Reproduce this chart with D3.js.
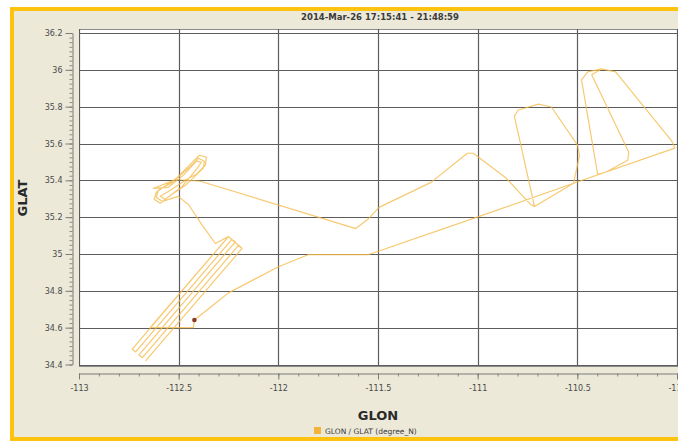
<!DOCTYPE html>
<html>
<head>
<meta charset="utf-8">
<script src="https://cdn.jsdelivr.net/npm/d3@7"></script>
<style>
  html, body { margin: 0; padding: 0; background: #ffffff; }
  svg { display: block; }
</style>
</head>
<body>
<svg id="chart" width="678" height="441"></svg>
<script>
// ---- chart text and axis values ----
const chartTitle = "2014-Mar-26 17:15:41 - 21:48:59";
const xTitle = "GLON";
const yTitle = "GLAT";
const legendLabel = "GLON / GLAT (degree_N)";

const xTickValues = [-113, -112.5, -112, -111.5, -111, -110.5, -110];
const xTickLabels = ["-113", "-112.5", "-112", "-111.5", "-111", "-110.5", "-110"];
const yTickValues = [34.4, 34.6, 34.8, 35, 35.2, 35.4, 35.6, 35.8, 36, 36.2];
const yTickLabels = ["34.4", "34.6", "34.8", "35", "35.2", "35.4", "35.6", "35.8", "36", "36.2"];

// ---- flight track (degrees) ----
const glon = [
  -112.421, -112.426, -112.643, -112.250, -112.733, -112.716, -112.233, -112.216,
  -112.699, -112.682, -112.199, -112.182, -112.665, -112.182, -112.250,
  -112.316, -112.381, -112.451,
  -112.502, -112.582, -112.612, -112.602, -112.532, -112.441, -112.401, -112.371,
  -112.376, -112.461, -112.562, -112.592, -112.623, -112.612, -112.512, -112.426,
  -112.396, -112.361, -112.366, -112.411,
  -112.451, -112.542, -112.592, -112.567, -112.482, -112.406, -112.386, -112.411,
  -112.477, -112.552, -112.628, -112.512, -112.391,
  -111.611, -111.546, -111.495, -111.234, -111.052, -111.022, -110.856,
  -110.735, -110.715, -110.519,
  -110.011, -110.026, -110.308, -110.378, -110.448, -110.479, -110.398, -110.358,
  -110.247, -110.242, -110.428, -110.378, -110.308, -110.026, -110.011,
  -110.519, -110.489, -110.499, -110.630, -110.695, -110.796, -110.816, -110.715,
  -110.519,
  -110.992, -111.546, -111.848, -111.999, -112.250, -112.331, -112.401, -112.421
];
const glat = [
  34.642, 34.600, 34.600, 35.095, 34.484, 34.468, 35.079, 35.066,
  34.452, 34.437, 35.048, 35.030, 34.421, 35.030, 35.095,
  35.057, 35.155, 35.269,
  35.313, 35.286, 35.307, 35.346, 35.389, 35.476, 35.520, 35.504,
  35.466, 35.378, 35.302, 35.275, 35.297, 35.335, 35.411, 35.504,
  35.536, 35.526, 35.482, 35.433,
  35.411, 35.346, 35.313, 35.297, 35.367, 35.466, 35.498, 35.504,
  35.427, 35.362, 35.356, 35.405, 35.395,
  35.138, 35.193, 35.253, 35.389, 35.547, 35.547, 35.411,
  35.269, 35.258, 35.384,
  35.575, 35.613, 35.989, 36.005, 35.989, 35.945, 35.433, 35.444,
  35.509, 35.553, 35.973, 36.005, 35.989, 35.613, 35.575,
  35.384, 35.536, 35.591, 35.798, 35.814, 35.782, 35.749, 35.258,
  35.384,
  35.204, 34.997, 34.997, 34.931, 34.789, 34.719, 34.659, 34.642
];
// departure point marker
const homeLon = [-112.421];
const homeLat = [34.642];

// ---- layout ----
const svg = d3.select("#chart");
const W = 678, H = 441;
const plot = { left: 79, right: 678, top: 29, bottom: 366 };

const x = d3.scaleLinear().domain([-113, -110]).range([79, 677]);
const y = d3.scaleLinear().domain([34.4, 36.2]).range([364.5, 33]);

const FONT = "'DejaVu Sans', Tahoma, sans-serif";

// outer chart background with gold frame
svg.append("rect").attr("x", 0).attr("y", 0).attr("width", W).attr("height", H).attr("fill", "#ffffff");
svg.append("rect")
  .attr("x", 12).attr("y", 9).attr("width", 720).attr("height", 430)
  .attr("fill", "#ECE9D8").attr("stroke", "#FFC20E").attr("stroke-width", 4);

// title
svg.append("text")
  .attr("x", 380).attr("y", 20)
  .attr("text-anchor", "middle")
  .attr("font-family", FONT).attr("font-size", 8.5).attr("font-weight", "bold")
  .attr("fill", "#3a3a3a")
  .text(chartTitle);

// plot background
svg.append("rect")
  .attr("x", plot.left + 0.5).attr("y", plot.top + 0.5)
  .attr("width", plot.right - plot.left + 5).attr("height", plot.bottom - plot.top)
  .attr("fill", "#ffffff").attr("stroke", "#8c8c8c").attr("stroke-width", 1);

svg.append("clipPath").attr("id", "plotClip")
  .append("rect").attr("x", plot.left).attr("y", plot.top)
  .attr("width", plot.right - plot.left).attr("height", plot.bottom - plot.top);

const gPlot = svg.append("g").attr("clip-path", "url(#plotClip)");

// grid
gPlot.selectAll("line.vgrid").data(xTickValues).enter().append("line")
  .attr("class", "vgrid")
  .attr("x1", d => Math.round(x(d)) + 0.5).attr("x2", d => Math.round(x(d)) + 0.5)
  .attr("y1", plot.top).attr("y2", plot.bottom)
  .attr("stroke", "#5c5c5c").attr("stroke-width", 1.2);
gPlot.selectAll("line.hgrid").data(yTickValues).enter().append("line")
  .attr("class", "hgrid")
  .attr("y1", d => Math.round(y(d)) + 0.5).attr("y2", d => Math.round(y(d)) + 0.5)
  .attr("x1", plot.left).attr("x2", plot.right)
  .attr("stroke", "#5c5c5c").attr("stroke-width", 1.2);

// track
const pts = glon.map((d, i) => [d, glat[i]]);
const line = d3.line().x(d => x(d[0])).y(d => y(d[1])).curve(d3.curveLinear);
gPlot.append("path")
  .attr("d", line(pts))
  .attr("fill", "none")
  .attr("stroke", "#F5BA48")
  .attr("stroke-opacity", 0.78)
  .attr("stroke-width", 1.2)
  .attr("stroke-linejoin", "round");

// departure marker
gPlot.selectAll("circle.home").data(homeLon).enter().append("circle")
  .attr("class", "home")
  .attr("cx", d => x(d)).attr("cy", (d, i) => y(homeLat[i]))
  .attr("r", 2.3).attr("fill", "#8a3b22");

// ---- axes ----
function styleAxis(g) {
  g.select(".domain").attr("stroke", "#7a7a7a");
  g.selectAll(".tick line").attr("stroke", "#7a7a7a");
  g.selectAll(".tick text").attr("fill", "#4a4a4a")
    .attr("font-family", FONT).attr("font-size", 8);
}

// y axis (offset a few pixels left of the plot)
const yAxisX = 72;
const yMinor = d3.range(34.4, 36.2001, 0.025).map(v => +v.toFixed(3));
svg.append("g").attr("transform", `translate(${yAxisX + 0.5},0)`)
  .call(d3.axisLeft(y).tickValues(yMinor).tickSize(3).tickFormat(""))
  .call(g => { g.select(".domain").remove(); g.selectAll(".tick line").attr("stroke", "#8a8a8a"); });
svg.append("g").attr("transform", `translate(${yAxisX + 0.5},0)`)
  .call(d3.axisLeft(y).tickValues(yTickValues)
    .tickFormat((d, i) => yTickLabels[i]).tickSizeInner(7).tickSizeOuter(0).tickPadding(3))
  .call(styleAxis);

// x axis (offset a few pixels below the plot)
const xAxisY = 373;
const xMinor = d3.range(-113, -109.999, 0.1).map(v => +v.toFixed(2));
svg.append("g").attr("transform", `translate(0,${xAxisY + 0.5})`)
  .call(d3.axisBottom(x).tickValues(xMinor).tickSize(3).tickFormat(""))
  .call(g => { g.select(".domain").remove(); g.selectAll(".tick line").attr("stroke", "#8a8a8a"); });
svg.append("g").attr("transform", `translate(0,${xAxisY + 0.5})`)
  .call(d3.axisBottom(x).tickValues(xTickValues)
    .tickFormat((d, i) => xTickLabels[i]).tickSizeInner(6).tickSizeOuter(0).tickPadding(6))
  .call(styleAxis);

// axis titles
svg.append("text")
  .attr("x", 378).attr("y", 420)
  .attr("text-anchor", "middle")
  .attr("font-family", FONT).attr("font-size", 13).attr("font-weight", "bold")
  .attr("fill", "#2a2a2a")
  .text(xTitle);
svg.append("text")
  .attr("transform", "translate(27,198) rotate(-90)")
  .attr("text-anchor", "middle")
  .attr("font-family", FONT).attr("font-size", 13).attr("font-weight", "bold")
  .attr("fill", "#2a2a2a")
  .text(yTitle);

// legend
svg.append("rect")
  .attr("x", 314).attr("y", 427).attr("width", 7).attr("height", 7)
  .attr("fill", "#F2B53A");
svg.append("text")
  .attr("x", 325).attr("y", 434)
  .attr("font-family", FONT).attr("font-size", 7.5)
  .attr("fill", "#3a3a3a")
  .text(legendLabel);
</script>
</body>
</html>
